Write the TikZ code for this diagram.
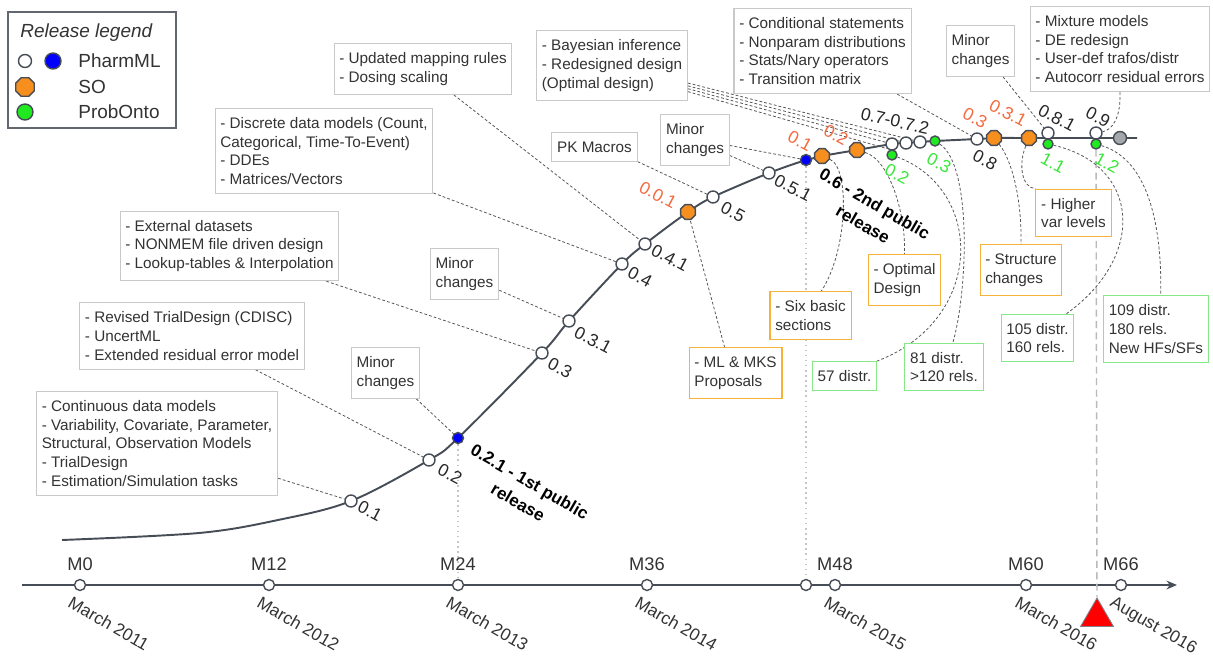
\documentclass[tikz,border=0pt]{standalone}
\usepackage{fontspec}
\setmainfont{Liberation Sans}
\usetikzlibrary{arrows.meta,positioning,backgrounds,calc,shapes.geometric}
\definecolor{lineGray}{HTML}{474D57}
\definecolor{boxGray}{HTML}{C9C9C9}
\definecolor{soBorder}{HTML}{F7B23B}
\definecolor{ontoBorder}{HTML}{86E886}
\definecolor{soFill}{HTML}{F78F1E}
\definecolor{ontoFill}{HTML}{1FEA1F}
\definecolor{pmlBlue}{HTML}{0000FF}
\definecolor{soText}{HTML}{F4693F}
\definecolor{ontoText}{HTML}{3BE53B}
\definecolor{boxText}{HTML}{333333}
\definecolor{leadGray}{HTML}{555555}
\definecolor{endGray}{HTML}{A4A8AD}
\tikzset{
 pml/.style={circle, draw=lineGray, fill=white, line width=0.8pt, minimum size=0.24cm, inner sep=0pt},
 pmlrel/.style={pml, fill=pmlBlue, minimum size=0.22cm},
 sonode/.style={regular polygon, regular polygon sides=8, draw=lineGray, fill=soFill, line width=0.8pt, minimum size=0.32cm, inner sep=0pt},
 onto/.style={circle, draw=lineGray, fill=ontoFill, line width=0.8pt, minimum size=0.2cm, inner sep=0pt},
 verlabel/.style={rotate=-28, inner sep=0pt, font=\fontsize{10}{12}\selectfont, text=black!85},
 soverlabel/.style={verlabel, text=soText},
 ontoverlabel/.style={verlabel, text=ontoText},
 relnote/.style={rotate=-30, align=center, inner sep=0pt, font=\bfseries\fontsize{9.7}{13.5}\selectfont},
 feat/.style={draw=boxGray, fill=white, line width=0.6pt, align=left, inner xsep=3pt, inner ysep=5pt, text=boxText, font=\fontsize{8.7}{10.7}\selectfont},
 sofeat/.style={feat, draw=soBorder},
 ontofeat/.style={feat, draw=ontoBorder},
 leader/.style={draw=leadGray, line width=0.45pt, dash pattern=on 1.6pt off 1.2pt},
 mainline/.style={draw=lineGray, line width=1.1pt},
 relline/.style={draw=gray!45, line width=0.9pt, dotted},
 nowline/.style={draw=gray!55, line width=0.8pt, dash pattern=on 4pt off 2.5pt},
 monthlabel/.style={inner sep=0pt, text=boxText, font=\fontsize{10.4}{12}\selectfont},
 datelabel/.style={rotate=-30, anchor=north west, inner sep=0pt, text=boxText, font=\fontsize{9.8}{12}\selectfont},
 legtext/.style={anchor=west, inner sep=0pt, text=boxText, font=\fontsize{10.8}{13}\selectfont},
}
\begin{document}
\begin{tikzpicture}[x=0.02cm, y=-0.02cm, >={Stealth[length=6pt,width=5pt]}]
\useasboundingbox (0,0) rectangle (1213,658);

% legend
\node[draw=lineGray!85, line width=0.6pt, minimum width=3.36cm, minimum height=2.32cm] (legend) at (92,70) {};
\node[legtext, font=\itshape\fontsize{10.8}{13}\selectfont] (legtitle) at (20,33) {Release legend};
\node[pml, minimum size=0.26cm] (legpml) at (25,61) {};
\node[pmlrel, minimum size=0.32cm] (legrel) at (53,61) {};
\node[legtext] (legpmltxt) at (78,61) {PharmML};
\node[sonode, minimum size=0.4cm] (legso) at (25,87) {};
\node[legtext] (legsotxt) at (78,87) {SO};
\node[onto, minimum size=0.32cm] (legonto) at (25,112) {};
\node[legtext] (legontotxt) at (78,112) {ProbOnto};

% releases
\coordinate (linestart) at (62,540);
\coordinate (c1) at (199,533);
\coordinate (c2) at (278,520);
\coordinate (lineend) at (1137,138);
\node[pml] (v01) at (351,501) {};
\node[pml] (v02) at (429,460) {};
\node[pmlrel] (v021) at (458,438) {};
\node[pml] (v03) at (542,353) {};
\node[pml] (v031) at (569,321) {};
\node[pml] (v04) at (622,264) {};
\node[pml] (v041) at (645,244) {};
\node[sonode] (so001) at (688,212) {};
\node[pml] (v05) at (713,197) {};
\node[pml] (v051) at (769,173) {};
\node[pmlrel] (v06) at (806,160) {};
\node[sonode] (so01) at (822,156) {};
\node[sonode] (so02) at (857,150) {};
\node[pml] (v07) at (892,144) {};
\node[pml] (v071) at (906,143) {};
\node[pml] (v072) at (920,142) {};
\node[onto] (g02) at (892,155) {};
\node[onto] (g03) at (935,141) {};
\node[pml] (v08) at (977,139) {};
\node[sonode] (so03) at (994,138) {};
\node[sonode] (so031) at (1029,138) {};
\node[pml] (v081) at (1048,133) {};
\node[onto] (g11) at (1048,144) {};
\node[pml] (v09) at (1096,133) {};
\node[onto] (g12) at (1096,144) {};
\node[pml, fill=endGray, minimum size=0.26cm] (vnext) at (1120,138) {};

% version numbers
\node[verlabel] (lv01) at (370,511) {0.1};
\node[verlabel] (lv02) at (450,474) {0.2};
\node[verlabel] (lv03) at (560,368) {0.3};
\node[verlabel] (lv031) at (593,340) {0.3.1};
\node[verlabel] (lv04) at (640,277) {0.4};
\node[verlabel] (lv041) at (670,258) {0.4.1};
\node[verlabel] (lv05) at (733,212) {0.5};
\node[verlabel] (lv051) at (793,188) {0.5.1};
\node[verlabel, rotate=15] (lv07) at (895,121) {0.7-0.7.2};
\node[verlabel] (lv08) at (985,160) {0.8};
\node[verlabel] (lv081) at (1057,118) {0.8.1};
\node[verlabel] (lv09) at (1098,117) {0.9};
\node[soverlabel] (lso001) at (658,195) {0.0.1};
\node[soverlabel] (lso01) at (800,141) {0.1};
\node[soverlabel] (lso02) at (836,135) {0.2};
\node[soverlabel] (lso03) at (975,118) {0.3};
\node[soverlabel] (lso031) at (1008,113) {0.3.1};
\node[ontoverlabel] (lg02) at (897,174) {0.2};
\node[ontoverlabel] (lg03) at (939,163) {0.3};
\node[ontoverlabel] (lg11) at (1053,163) {1.1};
\node[ontoverlabel] (lg12) at (1107,163) {1.2};
\node[relnote] (rel1) at (524,492) {0.2.1 - 1st public\\release};
\node[relnote] (rel2) at (869,214) {0.6 - 2nd public\\release};

% PharmML features
\node[feat] (cont) at (157,443.5) {- Continuous data models\\- Variability, Covariate, Parameter,\\Structural, Observation Models\\- TrialDesign\\- Estimation/Simulation tasks};
\node[feat] (revised) at (192,336) {- Revised TrialDesign (CDISC)\\- UncertML\\- Extended residual error model};
\node[feat] (minorA) at (385.5,373) {Minor\\changes};
\node[feat] (external) at (229.5,246) {- External datasets\\- NONMEM file driven design\\- Lookup-tables \& Interpolation};
\node[feat] (minorB) at (464.5,274) {Minor\\changes};
\node[feat] (discrete) at (324,151) {- Discrete data models (Count,\\Categorical, Time-To-Event)\\- DDEs\\- Matrices/Vectors};
\node[feat] (updated) at (423,69) {- Updated mapping rules\\- Dosing scaling};
\node[feat] (pk) at (594.5,147) {PK Macros};
\node[feat] (minorC) at (695,140) {Minor\\changes};
\node[feat] (bayes) at (612,65.5) {- Bayesian inference\\- Redesigned design\\(Optimal design)};
\node[feat] (cond) at (822.5,51) {- Conditional statements\\- Nonparam distributions\\- Stats/Nary operators\\- Transition matrix};
\node[feat] (minorD) at (980.5,51) {Minor\\changes};
\node[feat] (mixture) at (1120,49) {- Mixture models\\- DE redesign\\- User-def trafos/distr\\- Autocorr residual errors};

% SO features
\node[sofeat] (mlmks) at (735.5,373) {- ML \& MKS\\Proposals};
\node[sofeat] (six) at (810.5,315.5) {- Six basic\\sections};
\node[sofeat] (optimal) at (904.5,280) {- Optimal\\Design};
\node[sofeat] (structure) at (1021,270) {- Structure\\changes};
\node[sofeat] (higher) at (1073.5,213) {- Higher\\var levels};

% ProbOnto features
\node[ontofeat] (d57) at (844.5,376) {57 distr.};
\node[ontofeat] (d81) at (944,367) {81 distr.\\>120 rels.};
\node[ontofeat] (d105) at (1037.5,338) {105 distr.\\160 rels.};
\node[ontofeat] (d109) at (1156,329) {109 distr.\\180 rels.\\New HFs/SFs};

% timeline
\coordinate (axstart) at (22,585);
\coordinate (axend) at (1177,585);
\node[pml, minimum size=0.22cm] (t0) at (80,585) {};
\node[pml, minimum size=0.22cm] (t12) at (269,585) {};
\node[pml, minimum size=0.22cm] (t24) at (458,585) {};
\node[pml, minimum size=0.22cm] (t36) at (647,585) {};
\node[pml, minimum size=0.22cm] (t46) at (806,585) {};
\node[pml, minimum size=0.22cm] (t48) at (835,585) {};
\node[pml, minimum size=0.22cm] (t60) at (1026,585) {};
\node[pml, minimum size=0.22cm] (t66) at (1121,585) {};
\node[monthlabel, above=0.15cm of t0] (m0) {M0};
\node[monthlabel, above=0.15cm of t12] (m12) {M12};
\node[monthlabel, above=0.15cm of t24] (m24) {M24};
\node[monthlabel, above=0.15cm of t36] (m36) {M36};
\node[monthlabel, above=0.15cm of t48] (m48) {M48};
\node[monthlabel, above=0.15cm of t60] (m60) {M60};
\node[monthlabel, above=0.15cm of t66] (m66) {M66};
\node[datelabel] (d0) at ($(t0)+(-7,10)$) {March 2011};
\node[datelabel] (d12) at ($(t12)+(-7,10)$) {March 2012};
\node[datelabel] (d24) at ($(t24)+(-7,10)$) {March 2013};
\node[datelabel] (d36) at ($(t36)+(-7,10)$) {March 2014};
\node[datelabel] (d48) at ($(t48)+(-6,10)$) {March 2015};
\node[datelabel] (d60) at ($(t60)+(-6,10)$) {March 2016};
\node[datelabel] (d66) at ($(t66)+(-6,10)$) {August 2016};
\node[regular polygon, regular polygon sides=3, draw=lineGray!70, line width=0.5pt, fill=red, minimum size=0.76cm, inner sep=0pt] (now) at (1097,617) {};

\begin{scope}[on background layer]
\draw[mainline, ->] (axstart) -- (axend);
\draw[relline] (v021) -- (t24);
\draw[relline] (v06) -- (t46);
\draw[nowline] (g12) -- (now);
\draw[mainline] plot[smooth, tension=0.55] coordinates {(linestart) (c1) (c2) (v01.center) (v02.center) (v021.center) (v03.center) (v031.center) (v04.center) (v041.center) (so001.center) (v05.center) (v051.center) (v06.center) (so01.center) (so02.center) (v07.center) (v071.center) (v072.center) (g03.center) (v08.center) (so03.center) (so031.center) (vnext.center) (lineend)};
% leaders
\draw[leader] (cont.-16) -- (v01);
\draw[leader] (revised.-28) -- (v02);
\draw[leader] (minorA.-40) -- (v021);
\draw[leader] (external.-20) -- (v03);
\draw[leader] (minorB.-25) -- (v031);
\draw[leader] (discrete.-21) -- (v04);
\draw[leader] (updated.-40) -- (v041);
\draw[leader] (pk.south east) -- (v05);
\draw[leader] (minorC.-24) -- (v051);
\draw[leader] (minorC.-9) -- (v06);
\draw[leader] (bayes.-13) -- (v072);
\draw[leader] (bayes.-15) -- (v071);
\draw[leader] (bayes.-17) -- (v07);
\draw[leader] (bayes.-19) -- (v07.south west);
\draw[leader] (cond.-30) -- (v08);
\draw[leader] (minorD.-49) -- (v081);
\draw[leader] (mixture.south) .. controls (1121,118) and (1112,130) .. (v09);
\draw[leader] (mlmks.113) -- (so001);
\draw[leader] (so01) .. controls (850,168) and (848,250) .. (six.66);
\draw[leader] (so02) .. controls (890,160) and (906,215) .. (optimal.north);
\draw[leader] (so03) .. controls (1012,160) and (1022,200) .. (structure.north);
\draw[leader] (so031) .. controls (1018,165) and (1022,188) .. (higher.north west);
\draw[leader] (g02) .. controls (985,190) and (985,320) .. (d57.north east);
\draw[leader] (g03) .. controls (972,165) and (968,290) .. (d81.70);
\draw[leader] (g11) .. controls (1140,165) and (1147,256) .. (d105.40);
\draw[leader] (g12) .. controls (1150,160) and (1162,230) .. (d109.82);
\end{scope}
\end{tikzpicture}
\end{document}
